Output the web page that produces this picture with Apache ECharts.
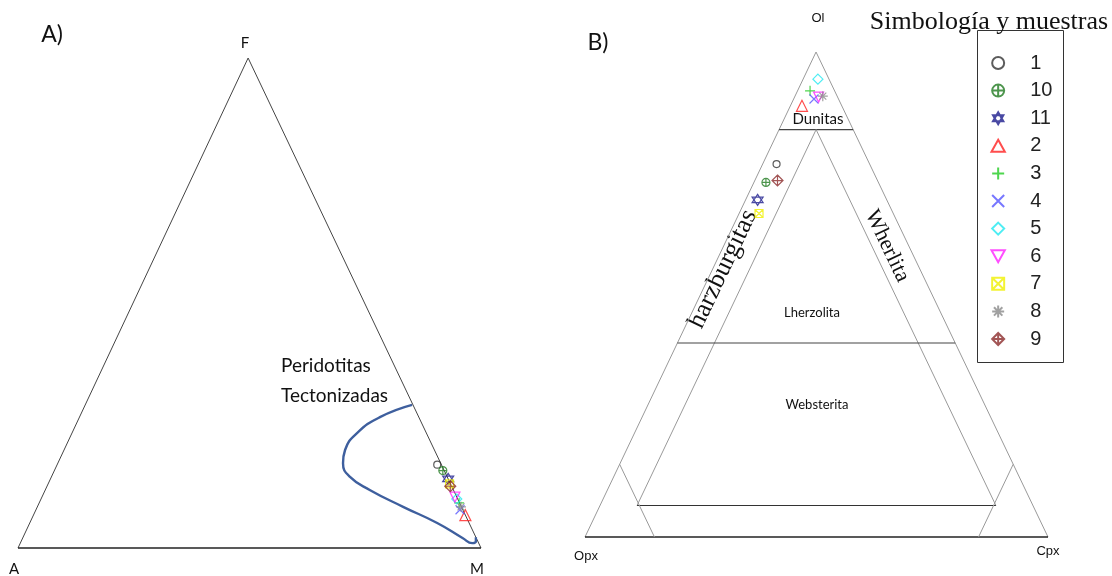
<!DOCTYPE html>
<html><head><meta charset="utf-8">
<script src="https://cdn.jsdelivr.net/npm/echarts@6/dist/echarts.min.js"></script>
<style>html,body{margin:0;padding:0;background:#fff}#c{width:1112px;height:576px}</style>
</head><body><div id="c"></div>
<script>
// ---- samples ----
const samples = ['1','10','11','2','3','4','5','6','7','8','9'];
const colors  = ['#333333','#217a21','#1c1c8c','#ff2020','#22cc22','#5555ff','#22e8f0','#ff22ff','#f0f000','#8a8a8a','#8b2a2a'];
// Panel A (F-M ternary): F fraction, M fraction (A = 1-F-M)
const aF = [0.170,0.158,0.141,0.067,0.092,0.078,0.100,0.104,0.131,0.084,0.126];
const aM = [0.821,0.839,0.859,0.933,0.907,0.916,0.898,0.892,0.867,0.915,0.871];
// Panel B (Ol-Opx-Cpx ternary): Ol fraction, Cpx fraction
const bOl  = [0.769,0.731,0.695,0.889,0.920,0.903,0.944,0.907,0.667,0.909,0.735];
const bCpx = [0.030,0.026,0.026,0.025,0.027,0.044,0.032,0.052,0.043,0.060,0.049];
// Panel A: tectonized peridotite field boundary (F, M)
const curveF = [0.292,0.267,0.235,0.200,0.173,0.145,0.118,0.084,0.051,0.020,0.010,0.014,0.022];
const curveM = [0.706,0.649,0.616,0.607,0.616,0.645,0.702,0.790,0.880,0.951,0.976,0.982,0.978];
// Panel B field boundaries
const olDunite = 0.84, olMid = 0.40, olLow = 0.065, minorPx = 0.08, cornerPx = 0.85;

const symbols = {
  '1':  'path://M1,0 A1,1 0 1,1 -1,0 A1,1 0 1,1 1,0 Z',
  '10': 'path://M1,0 A1,1 0 1,1 -1,0 A1,1 0 1,1 1,0 Z M0,-1 L0,1 M-1,0 L1,0',
  '11': 'path://M0,-1 L0.866,0.5 L-0.866,0.5 Z M0,1 L0.866,-0.5 L-0.866,-0.5 Z',
  '2':  'path://M0,-1 L1,0.8 L-1,0.8 Z',
  '3':  'path://M0,-1 L0,1 M-1,0 L1,0',
  '4':  'path://M-1,-1 L1,1 M-1,1 L1,-1',
  '5':  'path://M0,-1 L1,0 L0,1 L-1,0 Z',
  '6':  'path://M-1,-0.8 L1,-0.8 L0,1 Z',
  '7':  'path://M-1,-1 L1,-1 L1,1 L-1,1 Z M-1,-1 L1,1 M-1,1 L1,-1',
  '8':  'path://M0,-1 L0,1 M-1,0 L1,0 M-0.7,-0.7 L0.7,0.7 M-0.7,0.7 L0.7,-0.7',
  '9':  'path://M0,-1 L1,0 L0,1 L-1,0 Z M0,-1 L0,1 M-1,0 L1,0'
};
const sizes = {'1':7,'10':8,'11':11,'2':11,'3':10,'4':9,'5':10,'6':10,'7':8,'8':10,'9':11};

const apexA = 0.497, apexB = 0.499;
const toA = (F, M) => [M + apexA * F, F];
const toB = (Ol, Cpx) => [Cpx + apexB * Ol, Ol];

function lineSeries(idx, pts, color, width, smooth) {
  return { type:'line', xAxisIndex:idx, yAxisIndex:idx, data:pts, symbol:'none', silent:true,
    smooth: smooth || false, clip:false, lineStyle:{color:color, width:width}, z:1 };
}

const series = [];
// Panel A frame
series.push(lineSeries(0, [toA(0,1), toA(1,0), toA(0,0)], '#444', 1));
series.push(lineSeries(0, [toA(0,0), toA(0,1)], '#222', 1.6));
series.push(lineSeries(0, curveF.map((f,i)=>toA(f,curveM[i])), '#3e5f9e', 2.4, 0.5));
// Panel B frame
series.push(lineSeries(1, [toB(0,0), toB(1,0), toB(0,1)], '#999', 1));
series.push(lineSeries(1, [toB(0,0), toB(0,1)], '#222', 1.6));
series.push(lineSeries(1, [toB(olDunite,0), toB(olDunite,1-olDunite)], '#444', 1.2));
series.push(lineSeries(1, [toB(olLow,minorPx), toB(olDunite,minorPx), toB(olLow,1-minorPx-olLow)], '#999', 1));
series.push(lineSeries(1, [toB(olMid,0), toB(olMid,1-olMid)], '#444', 1.2));
series.push(lineSeries(1, [toB(olLow,minorPx), toB(olLow,1-minorPx-olLow)], '#333', 1.2));
series.push(lineSeries(1, [toB(1-cornerPx,0), toB(0,1-cornerPx)], '#999', 1));
series.push(lineSeries(1, [toB(1-cornerPx,cornerPx), toB(0,cornerPx)], '#999', 1));

samples.forEach((s,i)=>{
  const base = { type:'scatter', name:s, symbol:symbols[s], symbolSize:sizes[s], clip:false, z:3,
    itemStyle:{color:'none', borderColor:colors[i], borderWidth:1.2} };
  series.push(Object.assign({}, base, {xAxisIndex:0, yAxisIndex:0, data:[toA(aF[i], aM[i])]}));
  series.push(Object.assign({}, base, {xAxisIndex:1, yAxisIndex:1, data:[toB(bOl[i], bCpx[i])]}));
});

const ax = {type:'value', min:0, max:1, show:false};
function txt(x, y, text, font, extra, align) {
  return Object.assign({ type:'text', x:x, y:y, silent:true,
    style:{ text:text, font:font, fill:'#111', align:align || 'center', verticalAlign:'middle' } }, extra || {});
}

const option = {
  animation:false,
  grid:[ {left:18, top:58, width:463, height:490}, {left:585, top:52, width:463, height:485} ],
  xAxis:[ Object.assign({gridIndex:0}, ax), Object.assign({gridIndex:1}, ax) ],
  yAxis:[ Object.assign({gridIndex:0}, ax), Object.assign({gridIndex:1}, ax) ],
  legend:{ data:samples, orient:'vertical', left:989, top:53, padding:0, itemGap:7.6,
    itemWidth:54, itemHeight:12, symbolKeepAspect:true,
    textStyle:{fontFamily:'Liberation Sans', fontSize:20, color:'#222', lineHeight:19} },
  series:series,
  graphic:[
    {type:'rect', shape:{x:977.5, y:30.5, width:86, height:332}, style:{fill:'none', stroke:'#333', lineWidth:1}, silent:true},
    txt(52, 35, 'A)', '23px Lato'),
    txt(598, 43, 'B)', '23px Lato'),
    txt(245, 43, 'F', '15px Lato'),
    txt(14, 569, 'A', '15px Lato'),
    txt(477, 569, 'M', '15px Lato'),
    txt(281, 366, 'Peridotitas', '19px Lato', null, 'left'),
    txt(281, 396, 'Tectonizadas', '19px Lato', null, 'left'),
    txt(818, 18, 'Ol', '13px "Liberation Sans Narrow", "Liberation Sans"'),
    txt(586, 556, 'Opx', '13px "Liberation Sans Narrow", "Liberation Sans"'),
    txt(1048, 551, 'Cpx', '13px "Liberation Sans Narrow", "Liberation Sans"'),
    txt(818, 119, 'Dunitas', '15px Lato'),
    txt(812, 313, 'Lherzolita', '13px Lato'),
    txt(817, 405, 'Websterita', '13px Lato'),
    txt(723, 269, 'harzburgitas', '26px "Liberation Serif"', {rotation: 1.126}),
    txt(887, 246, 'Wherlita', '22px "Liberation Serif"', {rotation: -1.126}),
    txt(989, 22, 'Simbología y muestras', '26px "Liberation Serif"')
  ]
};
const chart = echarts.init(document.getElementById('c'), null, {renderer:'canvas'});
chart.setOption(option);
</script></body></html>
